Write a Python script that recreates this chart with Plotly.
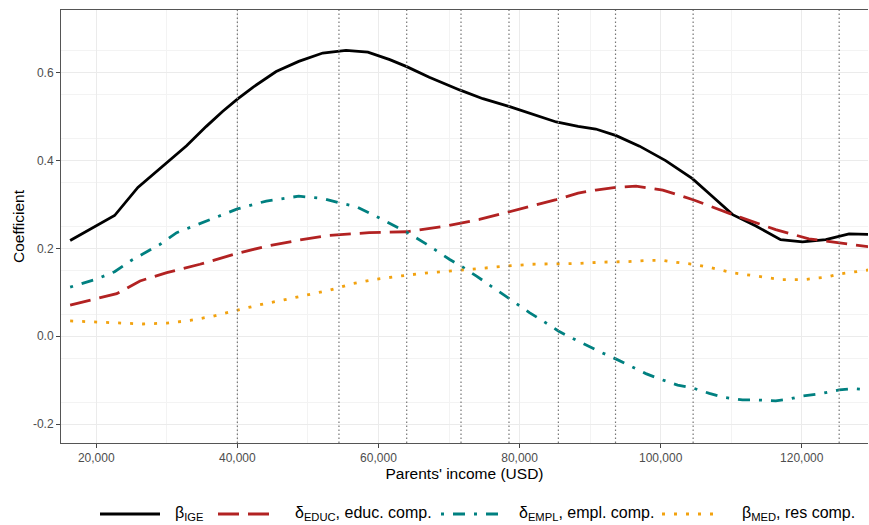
import plotly.graph_objects as go

# ---------------- data ----------------
ige_income = [16300, 20000, 22600, 25900, 30000, 32800, 35600, 37900, 40000, 42200,
              45500, 48700, 52100, 55400, 58500, 61600, 64000, 67200, 71500, 74800,
              78600, 81900, 85200, 88300, 90800, 93700, 97000, 100700, 104500, 107300,
              110200, 113500, 117000, 120100, 123400, 126700, 129400]
ige = [0.218, 0.252, 0.275, 0.339, 0.395, 0.434, 0.478, 0.512, 0.540, 0.567,
       0.603, 0.626, 0.645, 0.651, 0.647, 0.630, 0.614, 0.590, 0.561, 0.541,
       0.523, 0.505, 0.488, 0.478, 0.472, 0.457, 0.433, 0.400, 0.359, 0.319,
       0.277, 0.251, 0.220, 0.215, 0.220, 0.233, 0.232]

educ_income = [16300, 20000, 22900, 26200, 30000, 34700, 40000, 44100, 48700, 53100,
               58700, 64000, 69600, 74300, 79000, 85200, 88300, 90800, 93700, 96500,
               100300, 104600, 110200, 116300, 121000, 125300, 129400]
educ = [0.071, 0.086, 0.097, 0.126, 0.145, 0.164, 0.189, 0.205, 0.219, 0.230,
        0.236, 0.238, 0.251, 0.266, 0.286, 0.311, 0.326, 0.333, 0.339, 0.342,
        0.333, 0.311, 0.277, 0.243, 0.222, 0.213, 0.204]

empl_income = [16300, 20000, 22600, 25000, 27100, 29000, 31400, 34700, 40000, 44100,
               48700, 52100, 54400, 56900, 59700, 64000, 66800, 70100, 71700, 73900,
               75700, 78100, 79500, 81400, 83300, 85500, 87400, 89400, 91500, 93700,
               95800, 97900, 100000, 102400, 104600, 106900, 109000, 111600, 113700,
               116300, 118200, 120100, 122900, 125300, 127400, 129400]
empl = [0.112, 0.130, 0.147, 0.173, 0.192, 0.209, 0.236, 0.257, 0.290, 0.308,
        0.319, 0.314, 0.304, 0.295, 0.273, 0.237, 0.210, 0.175, 0.160, 0.137,
        0.117, 0.090, 0.075, 0.054, 0.035, 0.012, -0.004, -0.020, -0.036, -0.052,
        -0.069, -0.085, -0.098, -0.111, -0.118, -0.130, -0.139, -0.145, -0.145,
        -0.147, -0.143, -0.136, -0.130, -0.122, -0.119, -0.122]

med_income = [16300, 19800, 23300, 26600, 30000, 33300, 36600, 40000, 43200, 46600,
              49800, 53100, 56400, 59700, 63000, 66600, 69800, 75000, 78300, 81600,
              85200, 88500, 91800, 95300, 98600, 100300, 101900, 104600, 106900, 110400,
              113700, 117000, 120300, 123600, 125400, 128800, 129400]
med = [0.035, 0.033, 0.031, 0.028, 0.030, 0.036, 0.046, 0.060, 0.072, 0.083,
       0.093, 0.105, 0.120, 0.130, 0.137, 0.144, 0.148, 0.156, 0.160, 0.164,
       0.165, 0.166, 0.169, 0.170, 0.173, 0.173, 0.169, 0.164, 0.157, 0.144,
       0.137, 0.129, 0.129, 0.135, 0.142, 0.150, 0.151]

decile_cuts = [40000, 54400, 64000, 71700, 78500, 85500, 93600, 104600, 125300]

x_tickvals = [20000, 40000, 60000, 80000, 100000, 120000]
x_ticktext = ["20,000", "40,000", "60,000", "80,000", "100,000", "120,000"]
y_tickvals = [-0.2, 0.0, 0.2, 0.4, 0.6]
y_ticktext = ["-0.2", "0.0", "0.2", "0.4", "0.6"]

legend_labels = ["β<sub>IGE</sub>", "δ<sub>EDUC</sub>, educ. comp.",
                 "δ<sub>EMPL</sub>, empl. comp.", "β<sub>MED</sub>, res comp."]

# ---------------- styles ----------------
colors = ["#000000", "#B22222", "#008080", "#F2A20F"]
dashes = ["solid", "21px,9px", "3px,9px,12px,9px", "3px,9px"]
LW = 2.8

fig = go.Figure()
series = [(ige_income, ige), (educ_income, educ), (empl_income, empl), (med_income, med)]
for (xs, ys), c, d, name in zip(series, colors, dashes, legend_labels):
    fig.add_trace(go.Scatter(x=xs, y=ys, mode="lines", name=name, showlegend=False,
                             line=dict(color=c, width=LW, dash=d)))

for xc in decile_cuts:
    fig.add_shape(type="line", xref="x", yref="paper", x0=xc, x1=xc, y0=0, y1=1,
                  line=dict(color="#777777", width=1.2, dash="1.5px,2.5px"), layer="above")

# manual legend (ggplot style, bottom)
W_PLOT = 807.0
H_PLOT = 433.0
L0 = 61.0
T_BOTTOM = 443.0
key_x = [100, 218, 441, 662]
text_x = [173, 293, 517, 740]
key_y = (T_BOTTOM - 514) / H_PLOT
text_y = (T_BOTTOM - 513) / H_PLOT
for kx, tx, c, d, lab in zip(key_x, text_x, colors, dashes, legend_labels):
    fig.add_shape(type="line", xref="paper", yref="paper",
                  x0=(kx - L0) / W_PLOT, x1=(kx + 60 - L0) / W_PLOT, y0=key_y, y1=key_y,
                  line=dict(color=c, width=LW, dash=d))
    fig.add_annotation(xref="paper", yref="paper", x=(tx - L0) / W_PLOT, y=text_y,
                       text=lab, showarrow=False, xanchor="left", yanchor="middle",
                       font=dict(size=16, color="#000000"))

fig.update_layout(
    width=869, height=525,
    margin=dict(l=61, r=1, t=10, b=82),
    paper_bgcolor="white", plot_bgcolor="white",
    font=dict(family="Liberation Sans, Arial, sans-serif", color="#000000"),
    showlegend=False,
)
fig.update_xaxes(
    range=[15003, 129386], tickvals=x_tickvals, ticktext=x_ticktext,
    showgrid=True, gridcolor="#EBEBEB", gridwidth=1.1,
    minor=dict(dtick=10000, tick0=0, showgrid=True, gridcolor="#F3F3F3", gridwidth=0.7),
    showline=True, linecolor="#555555", linewidth=1, mirror=True,
    ticks="outside", ticklen=4, tickcolor="#444444", tickwidth=1,
    tickfont=dict(size=12, color="#4D4D4D"),
    title=dict(text="Parents' income (USD)", font=dict(size=15.5, color="#000000"), standoff=1),
    zeroline=False,
)
fig.update_yaxes(
    range=[-0.243, 0.743], tickvals=y_tickvals, ticktext=y_ticktext,
    showgrid=True, gridcolor="#EBEBEB", gridwidth=1.1,
    minor=dict(dtick=0.1, tick0=0.05, showgrid=True, gridcolor="#F3F3F3", gridwidth=0.7),
    showline=True, linecolor="#555555", linewidth=1,
    ticks="outside", ticklen=4, tickcolor="#444444", tickwidth=1,
    tickfont=dict(size=12, color="#4D4D4D"),
    title=dict(text="Coefficient", font=dict(size=15.5, color="#000000"), standoff=4),
    zeroline=False,
)

fig.write_html("out.html", config={"displayModeBar": False},
               post_script="document.body.style.margin='0';document.body.style.overflow='hidden';")
